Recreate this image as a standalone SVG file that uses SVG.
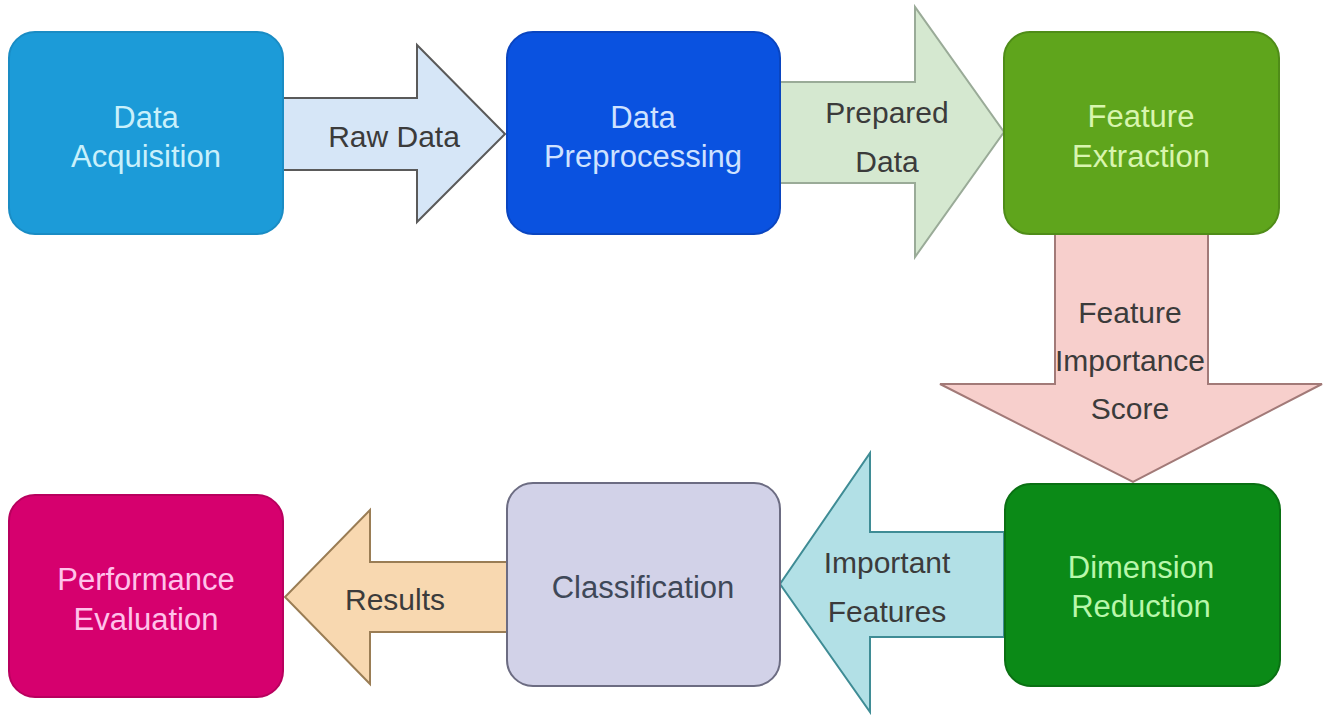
<svg xmlns="http://www.w3.org/2000/svg" width="1331" height="715" viewBox="0 0 1331 715">
<style>
.lbl{font-family:"Liberation Sans",Arial,sans-serif;font-size:31px;text-anchor:middle}
.alb{font-family:"Liberation Sans",Arial,sans-serif;font-size:30px;text-anchor:middle;fill:#3b3b3b}
.arr{stroke-width:2;stroke-linejoin:miter}
.box{stroke-width:2}
</style>
<rect width="1331" height="715" fill="#ffffff"/>
<g id="connectors">
  <g id="c-raw">
    <polygon class="arr" points="283,98 417,98 417,45 505,134 417,222 417,170 283,170" fill="#d6e6f7" stroke="#5a5a5a"/>
    <text class="alb" x="394" y="147">Raw Data</text>
  </g>
  <g id="c-prepared">
    <polygon class="arr" points="780,82 915,82 915,7 1004,132 915,257 915,183 780,183" fill="#d5e8d0" stroke="#9aab98"/>
    <text class="alb" x="887" y="123">Prepared</text>
    <text class="alb" x="887" y="172">Data</text>
  </g>
  <g id="c-importance">
    <polygon class="arr" points="1055,233 1208,233 1208,384 1322,384 1133,482 940,384 1055,384" fill="#f7cfcc" stroke="#a27a78"/>
    <text class="alb" x="1130" y="323">Feature</text>
    <text class="alb" x="1130" y="371">Importance</text>
    <text class="alb" x="1130" y="419">Score</text>
  </g>
  <g id="c-important">
    <polygon class="arr" points="1004,532 870,532 870,453 780,584 870,712 870,637 1004,637" fill="#b2e0e6" stroke="#3f8c95"/>
    <text class="alb" x="887" y="573">Important</text>
    <text class="alb" x="887" y="622">Features</text>
  </g>
  <g id="c-results">
    <polygon class="arr" points="507,562 370,562 370,510 285,597 370,684 370,632 507,632" fill="#f8d8b0" stroke="#9a7d55"/>
    <text class="alb" x="395" y="610">Results</text>
  </g>
</g>
<g id="n-acquisition">
  <rect class="box" x="9" y="32" width="274" height="202" rx="26" fill="#1c9bd8" stroke="#1a8cc4"/>
  <text class="lbl" x="146" y="128" fill="#c9f0fb">Data</text>
  <text class="lbl" x="146" y="167" fill="#c9f0fb">Acquisition</text>
</g>
<g id="n-preprocessing">
  <rect class="box" x="507" y="32" width="273" height="202" rx="26" fill="#0a52e0" stroke="#0a45c0"/>
  <text class="lbl" x="643" y="128" fill="#cfe2ff">Data</text>
  <text class="lbl" x="643" y="167" fill="#cfe2ff">Preprocessing</text>
</g>
<g id="n-extraction">
  <rect class="box" x="1004" y="32" width="275" height="202" rx="26" fill="#5fa51c" stroke="#4f8c18"/>
  <text class="lbl" x="1141" y="127" fill="#d8f5ae">Feature</text>
  <text class="lbl" x="1141" y="167" fill="#d8f5ae">Extraction</text>
</g>
<g id="n-dimension">
  <rect class="box" x="1005" y="484" width="275" height="202" rx="26" fill="#0b8a17" stroke="#0a7013"/>
  <text class="lbl" x="1141" y="578" fill="#b9f7ab">Dimension</text>
  <text class="lbl" x="1141" y="617" fill="#b9f7ab">Reduction</text>
</g>
<g id="n-classification">
  <rect class="box" x="507" y="483" width="273" height="203" rx="26" fill="#d2d2e8" stroke="#6c6c82"/>
  <text class="lbl" x="643" y="598" fill="#3f4858">Classification</text>
</g>
<g id="n-performance">
  <rect class="box" x="9" y="495" width="274" height="202" rx="26" fill="#d6006e" stroke="#b8005e"/>
  <text class="lbl" x="146" y="590" fill="#ffc2ea">Performance</text>
  <text class="lbl" x="146" y="630" fill="#ffc2ea">Evaluation</text>
</g>
</svg>
